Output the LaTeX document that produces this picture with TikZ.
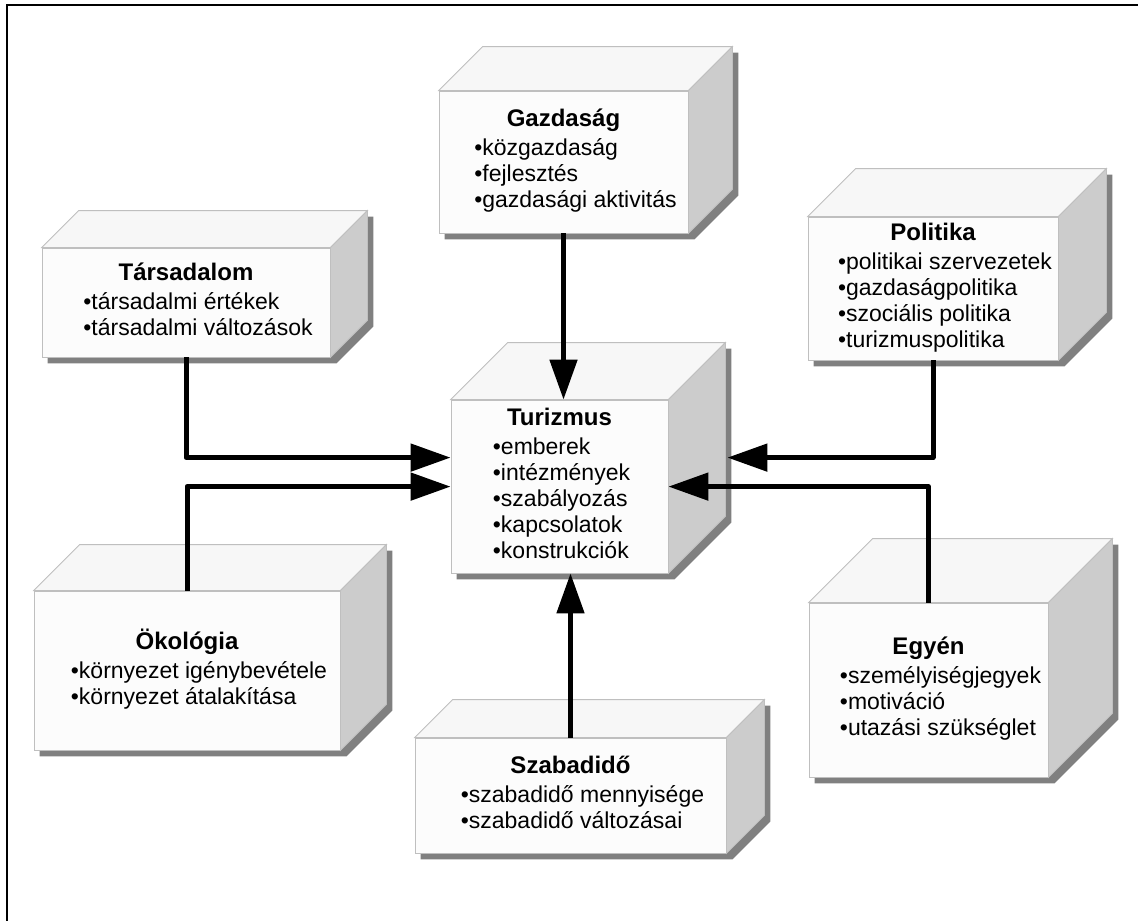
\documentclass[tikz,border=0pt]{standalone}
\usepackage{fontspec}
\setmainfont{Liberation Sans}
\usetikzlibrary{arrows.meta,backgrounds,calc}

% title centred over a bullet list that is pushed a little to the right
\newcommand{\cubetext}[2]{\begin{tabular}{@{\hspace{24pt}}l@{}}\multicolumn{1}{@{}c@{}}{\fontsize{24}{26}\selectfont\bfseries #1}\\[3pt] #2\end{tabular}}

\tikzset{
  cube/.style={draw=black!25, fill=black!1, line width=0.8pt, inner sep=0pt, font=\fontsize{23}{26}\selectfont},
  cubetop/.style={draw=black!25, fill=black!3, line width=0.8pt},
  cubeside/.style={draw=black!25, fill=black!20, line width=0.8pt},
  cubeshadow/.style={fill=black!50},
  link/.style={line width=5pt, line join=round, -{Triangle[length=40pt,width=27pt]}}
}

\begin{document}
\begin{tikzpicture}[x=1pt, y=-1pt]

\useasboundingbox (0,0) rectangle (1138,921);

\draw[line width=1.5pt] (7,921) -- (7,5) -- (1138,5);

\node[cube, minimum width=249pt, minimum height=142pt] (gazd) at (563.5,162)
  {\cubetext{Gazdaság}{•közgazdaság\\ •fejlesztés\\ •gazdasági aktivitás}};
\node[cube, minimum width=288pt, minimum height=109pt] (tars) at (186,302.5)
  {\cubetext{Társadalom}{•társadalmi értékek\\ •társadalmi változások}};
\node[cube, minimum width=217pt, minimum height=173pt] (turi) at (559.5,486.5)
  {\begin{tabular}{@{\hspace{4pt}}l@{}}\multicolumn{1}{@{}c@{}}{\fontsize{24}{26}\selectfont\bfseries Turizmus}\\[3pt] •emberek\\ •intézmények\\ •szabályozás\\ •kapcsolatok\\ •konstrukciók\end{tabular}};
\node[cube, minimum width=250pt, minimum height=143pt] (poli) at (933,288.5)
  {\cubetext{Politika}{•politikai szervezetek\\ •gazdaságpolitika\\ •szociális politika\\ •turizmuspolitika}};
\node[cube, minimum width=306pt, minimum height=159pt] (okol) at (187,670.5)
  {\cubetext{Ökológia}{•környezet igénybevétele\\ •környezet átalakítása}};
\node[cube, minimum width=239pt, minimum height=174pt] (egyen) at (928.5,690)
  {\cubetext{Egyén}{•személyiségjegyek\\ •motiváció\\ •utazási szükséglet}};
\node[cube, minimum width=311pt, minimum height=115pt] (szab) at (570.5,795.5)
  {\cubetext{Szabadidő}{•szabadidő mennyisége\\ •szabadidő változásai}};

% shadow, top and side of every box
\begin{scope}[on background layer]
\foreach \n/\dep in {gazd/44,tars/37,turi/57,poli/48,okol/46,egyen/64,szab/38}{
  \fill[cubeshadow] ($(\n.south west)+(6,6)$) -- ($(\n.north west)+(6,6)$)
    -- ($(\n.north west)+(\dep+6,6-\dep)$) -- ($(\n.north east)+(\dep+6,6-\dep)$)
    -- ($(\n.south east)+(\dep+6,6-\dep)$) -- ($(\n.south east)+(6,6)$) -- cycle;
  \draw[cubetop] (\n.north west) -- ($(\n.north west)+(\dep,-\dep)$)
    -- ($(\n.north east)+(\dep,-\dep)$) -- (\n.north east) -- cycle;
  \draw[cubeside] (\n.north east) -- ($(\n.north east)+(\dep,-\dep)$)
    -- ($(\n.south east)+(\dep,-\dep)$) -- (\n.south east) -- cycle;
}
\end{scope}

\coordinate (turi-w1) at ($(turi.north west)+(0,58)$);
\coordinate (turi-w2) at ($(turi.north west)+(0,87)$);
\coordinate (turi-e1) at ($(turi.north east)+(59,58)$);
\coordinate (turi-e2) at ($(turi.north east)+(0,87)$);

\draw[link] (gazd.south) -- (gazd.south |- turi.north);
\draw[link] (tars.south) |- (turi-w1);
\draw[link] (okol.north) |- (turi-w2);
\draw[link] (poli.south) |- (turi-e1);
\draw[link] (egyen.north) |- (turi-e2);
\draw[link] (szab.north) -- (szab.north |- turi.south);

\end{tikzpicture}
\end{document}
